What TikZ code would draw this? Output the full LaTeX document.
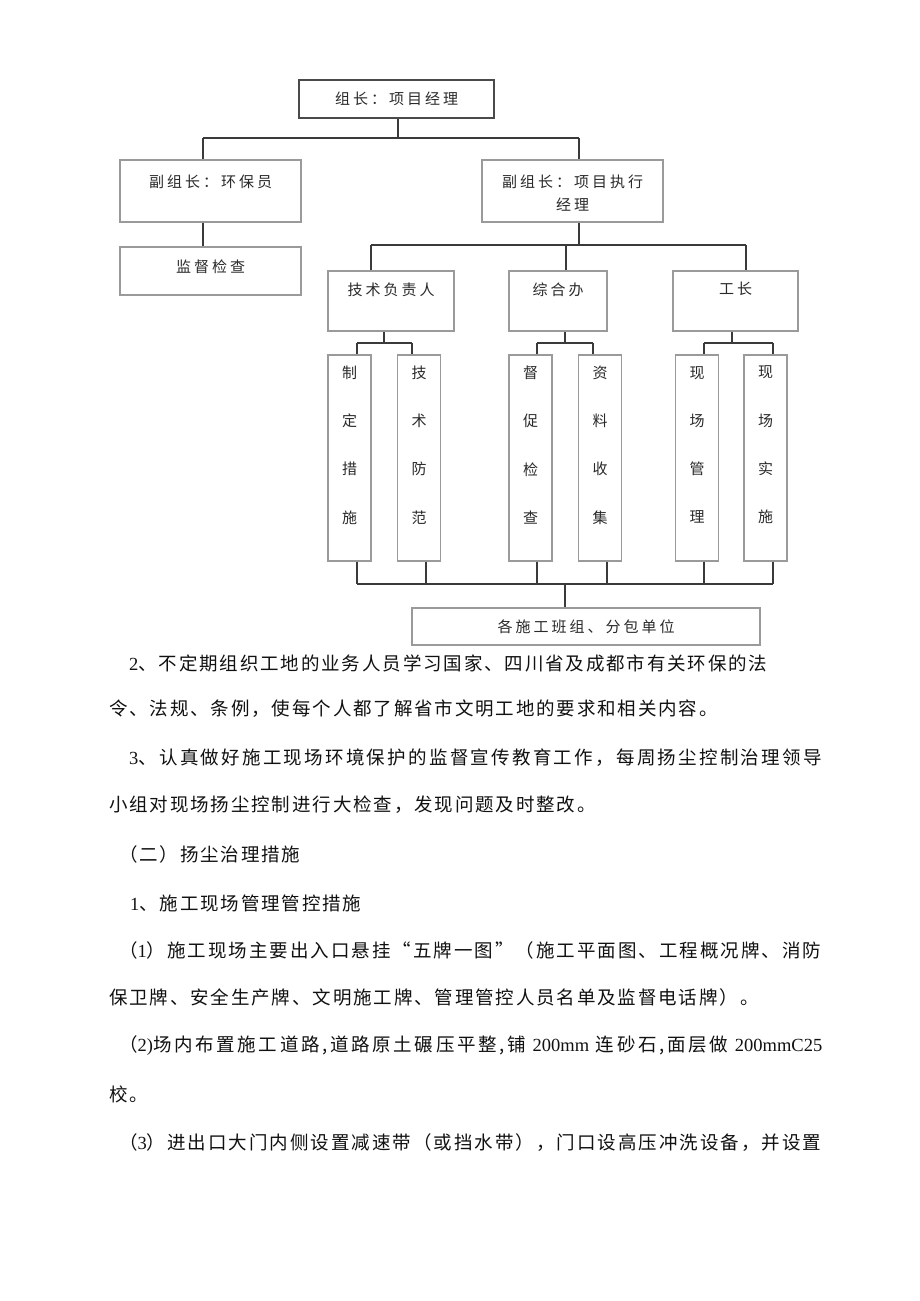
\documentclass[tikz,border=0pt]{standalone}
\usepackage{fontspec}
\setmainfont{Noto Sans CJK SC}
\newfontfamily\dfont[LetterSpace=20]{Noto Sans CJK SC}
\newfontfamily\dvfont{Noto Sans CJK SC}
\newfontfamily\bfont[LetterSpace=10]{Noto Sans CJK SC}
\newfontfamily\bfontA[LetterSpace=12.3]{Noto Sans CJK SC}
\newfontfamily\bfontB[LetterSpace=10.8]{Noto Sans CJK SC}
\newfontfamily\bfontC[LetterSpace=14.4]{Noto Sans CJK SC}
\newfontfamily\lfont{Liberation Serif}
\newcommand{\lat}[1]{{\lfont #1}}
\definecolor{boxgray}{HTML}{9A9A9A}
\definecolor{linegray}{HTML}{3A3A3A}
\definecolor{topgray}{HTML}{4A4A4A}
\definecolor{dtxt}{HTML}{2A2A2A}
\definecolor{btxt}{HTML}{111111}
\tikzset{
  box/.style={draw=boxgray, line width=1.2pt, inner sep=0pt, rectangle},
  conn/.style={draw=linegray, line width=1.4pt},
  dtext/.style={font=\dfont\fontsize{15}{18}\selectfont, text=dtxt},
  dtexttwo/.style={font=\dfont\fontsize{15}{23}\selectfont, text=dtxt, align=center},
  vtext/.style={font=\dvfont\fontsize{15}{48.3}\selectfont, text=dtxt, align=center},
  tallbox/.style={box, minimum width=43pt, minimum height=206pt},
  midbox/.style={box, minimum height=60pt},
  btext/.style={font=\bfont\fontsize{18.5}{20}\selectfont, text=btxt, inner sep=0pt, anchor=west},
  btextA/.style={btext, font=\bfontA\fontsize{18.5}{20}\selectfont},
  btextB/.style={btext, font=\bfontB\fontsize{18.5}{20}\selectfont},
  btextC/.style={btext, font=\bfontC\fontsize{18.5}{20}\selectfont},
}
\begin{document}
\begin{tikzpicture}[x=1pt,y=-1pt]
\useasboundingbox (0,0) rectangle (920,1301);
\fill[white] (0,0) rectangle (920,1301);

% top level
\node[box, draw=topgray, line width=1.5pt, minimum width=195pt, minimum height=38pt, dtext] (top) at (396.5,99) {组长：项目经理};
\node[box, minimum width=181pt, minimum height=62pt,
  label={[dtext,anchor=center,yshift=-22pt]north:副组长：环保员}] (vl) at (210.5,191) {};
\node[box, minimum width=181pt, minimum height=62pt,
  label={[dtexttwo,anchor=center,yshift=-33.5pt]north:副组长：项目执行\\经理}] (vr) at (572.5,191) {};
\node[box, minimum width=181pt, minimum height=48pt,
  label={[dtext,anchor=center,yshift=-20pt]north:监督检查}] (jd) at (210.5,271) {};

% middle level
\node[midbox, minimum width=126pt, label={[dtext,anchor=center,yshift=-19pt]north:技术负责人}] (js) at (391,301) {};
\node[midbox, minimum width=98pt, label={[dtext,anchor=center,yshift=-19pt]north:综合办}] (zh) at (558,301) {};
\node[midbox, minimum width=125pt, label={[dtext,anchor=center,yshift=-18pt]north:工长}] (gz) at (735.5,301) {};

% tall boxes
\node[tallbox, label={[vtext,anchor=center,yshift=-90.5pt]north:制\\定\\措\\施}] (t1) at (349.5,458) {};
\node[tallbox, label={[vtext,anchor=center,yshift=-90.5pt]north:技\\术\\防\\范}] (t2) at (419,458) {};
\node[tallbox, label={[vtext,anchor=center,yshift=-90.5pt]north:督\\促\\检\\查}] (t3) at (530.5,458) {};
\node[tallbox, label={[vtext,anchor=center,yshift=-90.5pt]north:资\\料\\收\\集}] (t4) at (600,458) {};
\node[tallbox, label={[vtext,anchor=center,yshift=-90.5pt]north:现\\场\\管\\理}] (t5) at (697,458) {};
\node[tallbox, label={[vtext,anchor=center,yshift=-90.5pt]north:现\\场\\实\\施}] (t6) at (765.5,458) {};

% bottom
\node[box, minimum width=348pt, minimum height=37pt, dtext] (bot) at (586,626.5) {各施工班组、分包单位};

% junction coordinates
\coordinate (b0) at (398,138);
\coordinate (bL) at (203,138);
\coordinate (bR) at (579,138);
\coordinate (c0) at (579,245);
\coordinate (c1) at (371,245);
\coordinate (c2) at (566,245);
\coordinate (c3) at (746,245);
\coordinate (s1) at (384,343);
\coordinate (s1a) at (357,343);
\coordinate (s1b) at (412,343);
\coordinate (s2) at (565,343);
\coordinate (s2a) at (537,343);
\coordinate (s2b) at (593,343);
\coordinate (s3) at (732,343);
\coordinate (s3a) at (704,343);
\coordinate (s3b) at (773,343);
\coordinate (u1) at (357,584);
\coordinate (u2) at (426,584);
\coordinate (u3) at (537,584);
\coordinate (u4) at (607,584);
\coordinate (u5) at (704,584);
\coordinate (u6) at (773,584);
\coordinate (uc) at (565,584);

% connectors
\draw[conn] (top.south -| b0) -- (b0);
\draw[conn] (bL) -- (bR);
\draw[conn] (bL) -- (vl.north -| bL);
\draw[conn] (bR) -- (vr.north -| bR);
\draw[conn] (vl.south -| bL) -- (jd.north -| bL);
\draw[conn] (vr.south -| c0) -- (c0);
\draw[conn] (c1) -- (c3);
\draw[conn] (c1) -- (js.north -| c1);
\draw[conn] (c2) -- (zh.north -| c2);
\draw[conn] (c3) -- (gz.north -| c3);
\draw[conn] (js.south -| s1) -- (s1);
\draw[conn] (s1a) -- (s1b);
\draw[conn] (s1a) -- (t1.north -| s1a);
\draw[conn] (s1b) -- (t2.north -| s1b);
\draw[conn] (zh.south -| s2) -- (s2);
\draw[conn] (s2a) -- (s2b);
\draw[conn] (s2a) -- (t3.north -| s2a);
\draw[conn] (s2b) -- (t4.north -| s2b);
\draw[conn] (gz.south -| s3) -- (s3);
\draw[conn] (s3a) -- (s3b);
\draw[conn] (s3a) -- (t5.north -| s3a);
\draw[conn] (s3b) -- (t6.north -| s3b);
\draw[conn] (t1.south -| u1) -- (u1);
\draw[conn] (t2.south -| u2) -- (u2);
\draw[conn] (t3.south -| u3) -- (u3);
\draw[conn] (t4.south -| u4) -- (u4);
\draw[conn] (t5.south -| u5) -- (u5);
\draw[conn] (t6.south -| u6) -- (u6);
\draw[conn] (u1) -- (u6);
\draw[conn] (uc) -- (bot.north -| uc);

% body text
\node[btext] (l1) at (129,663) {\lat{2}、不定期组织工地的业务人员学习国家、四川省及成都市有关环保的法};
\node[btext] (l2) at (109,709) {令、法规、条例，使每个人都了解省市文明工地的要求和相关内容。};
\node[btextA] (l3) at (129,758) {\lat{3}、认真做好施工现场环境保护的监督宣传教育工作，每周扬尘控制治理领导};
\node[btext] (l4) at (109,805) {小组对现场扬尘控制进行大检查，发现问题及时整改。};
\node[btext] (l5) at (119,854) {（二）扬尘治理措施};
\node[btext] (l6) at (130,903) {\lat{1}、施工现场管理管控措施};
\node[btextB] (l7) at (119,950) {（\lat{1}）施工现场主要出入口悬挂“五牌一图”（施工平面图、工程概况牌、消防};
\node[btext] (l8) at (109,997) {保卫牌、安全生产牌、文明施工牌、管理管控人员名单及监督电话牌）。};
\node[btextC] (l9) at (119,1046) {（\lat{2)}场内布置施工道路,道路原土碾压平整,铺 \lat{200mm} 连砂石,面层做 \lat{200mmC25}};
\node[btext] (l10) at (109,1094) {校。};
\node[btextB] (l11) at (119,1143) {（\lat{3}）进出口大门内侧设置减速带（或挡水带），门口设高压冲洗设备，并设置};
\end{tikzpicture}
\end{document}
